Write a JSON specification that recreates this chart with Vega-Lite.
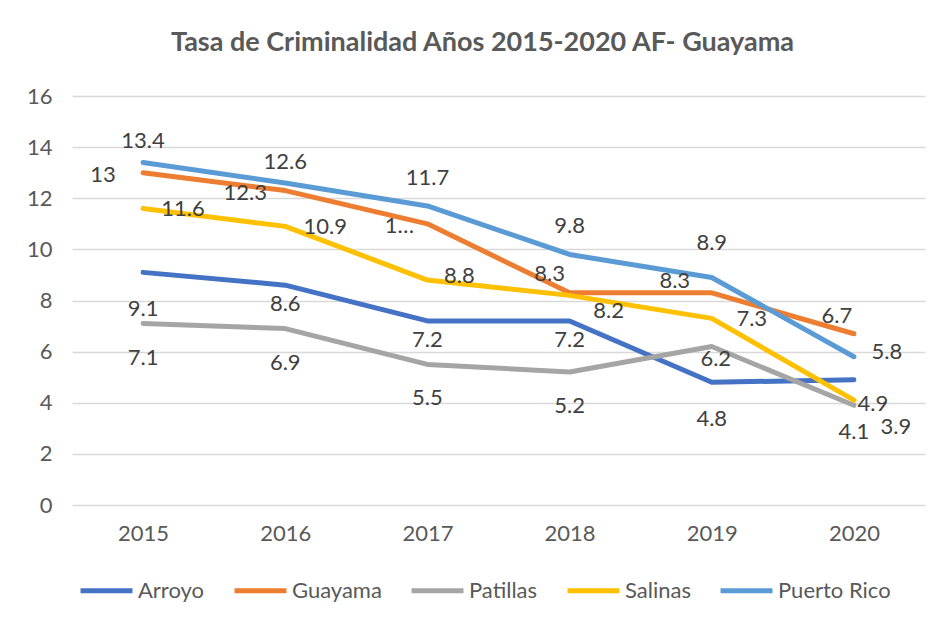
{
  "$schema": "https://vega.github.io/schema/vega-lite/v6.json",
  "width": 853,
  "height": 409,
  "autosize": "none",
  "padding": {"left": 72, "top": 96, "right": 18, "bottom": 119},
  "background": "white",
  "title": {
    "text": "Tasa de Criminalidad Años 2015-2020 AF- Guayama",
    "font": "Lato",
    "fontSize": 27,
    "fontWeight": "bold",
    "color": "#595959",
    "anchor": "middle",
    "dx": -16,
    "offset": 28
  },
  "config": {
    "view": {"stroke": null},
    "text": {"font": "Lato", "fontSize": 22, "color": "#404040", "baseline": "middle", "align": "center"}
  },
  "data": {
    "values": [
      {"year": "2015", "s": "Arroyo", "v": 9.1},
      {"year": "2016", "s": "Arroyo", "v": 8.6},
      {"year": "2017", "s": "Arroyo", "v": 7.2},
      {"year": "2018", "s": "Arroyo", "v": 7.2},
      {"year": "2019", "s": "Arroyo", "v": 4.8},
      {"year": "2020", "s": "Arroyo", "v": 4.9},
      {"year": "2015", "s": "Guayama", "v": 13},
      {"year": "2016", "s": "Guayama", "v": 12.3},
      {"year": "2017", "s": "Guayama", "v": 11},
      {"year": "2018", "s": "Guayama", "v": 8.3},
      {"year": "2019", "s": "Guayama", "v": 8.3},
      {"year": "2020", "s": "Guayama", "v": 6.7},
      {"year": "2015", "s": "Patillas", "v": 7.1},
      {"year": "2016", "s": "Patillas", "v": 6.9},
      {"year": "2017", "s": "Patillas", "v": 5.5},
      {"year": "2018", "s": "Patillas", "v": 5.2},
      {"year": "2019", "s": "Patillas", "v": 6.2},
      {"year": "2020", "s": "Patillas", "v": 3.9},
      {"year": "2015", "s": "Salinas", "v": 11.6},
      {"year": "2016", "s": "Salinas", "v": 10.9},
      {"year": "2017", "s": "Salinas", "v": 8.8},
      {"year": "2018", "s": "Salinas", "v": 8.2},
      {"year": "2019", "s": "Salinas", "v": 7.3},
      {"year": "2020", "s": "Salinas", "v": 4.1},
      {"year": "2015", "s": "Puerto Rico", "v": 13.4},
      {"year": "2016", "s": "Puerto Rico", "v": 12.6},
      {"year": "2017", "s": "Puerto Rico", "v": 11.7},
      {"year": "2018", "s": "Puerto Rico", "v": 9.8},
      {"year": "2019", "s": "Puerto Rico", "v": 8.9},
      {"year": "2020", "s": "Puerto Rico", "v": 5.8}
    ]
  },
  "encoding": {
    "x": {
      "field": "year", "type": "ordinal",
      "scale": {"type": "point", "padding": 0.5},
      "axis": {"title": null, "labelAngle": 0, "labelFont": "Lato", "labelFontSize": 22, "labelColor": "#595959", "labelPadding": 18, "ticks": false, "domain": false, "grid": false}
    },
    "y": {
      "field": "v", "type": "quantitative",
      "scale": {"domain": [0, 16]},
      "axis": {"title": null, "values": [0, 2, 4, 6, 8, 10, 12, 14, 16], "labelFont": "Lato", "labelFontSize": 22, "labelColor": "#595959", "labelPadding": 20, "ticks": false, "domain": false, "gridColor": "#D9D9D9", "gridWidth": 1.5}
    }
  },
  "layer": [
    {
      "mark": {"type": "line", "strokeWidth": 5, "strokeCap": "round", "strokeJoin": "round"},
      "encoding": {
        "color": {
          "field": "s", "type": "nominal",
          "scale": {"domain": ["Arroyo", "Guayama", "Patillas", "Salinas", "Puerto Rico"], "range": ["#4472C4", "#ED7D31", "#A5A5A5", "#FFC000", "#5B9BD5"]},
          "legend": {"title": null, "orient": "none", "legendX": 6, "legendY": 466, "direction": "horizontal", "labelFont": "Lato", "labelFontSize": 22, "labelColor": "#595959", "symbolType": "stroke", "symbolStrokeWidth": 5, "symbolSize": 2700, "columnPadding": 19, "labelOffset": 3}
        }
      }
    },
    {"transform": [{"filter": "datum.s==='Arroyo' && (datum.year==='2015' || datum.year==='2019')"}], "mark": {"type": "text", "dy": 37}, "encoding": {"text": {"field": "v", "type": "nominal"}}},
    {"transform": [{"filter": "datum.s==='Arroyo' && (datum.year==='2016' || datum.year==='2017' || datum.year==='2018')"}], "mark": {"type": "text", "dy": 19}, "encoding": {"text": {"field": "v", "type": "nominal"}}},
    {"transform": [{"filter": "datum.s==='Arroyo' && datum.year==='2020'"}], "mark": {"type": "text", "dx": 19, "dy": 24}, "encoding": {"text": {"field": "v", "type": "nominal"}}},
    {"transform": [{"filter": "datum.s==='Patillas' && datum.year<='2018'"}], "mark": {"type": "text", "dy": 34}, "encoding": {"text": {"field": "v", "type": "nominal"}}},
    {"transform": [{"filter": "datum.s==='Patillas' && datum.year==='2019'"}], "mark": {"type": "text", "dx": 4, "dy": 12}, "encoding": {"text": {"field": "v", "type": "nominal"}}},
    {"transform": [{"filter": "datum.s==='Patillas' && datum.year==='2020'"}], "mark": {"type": "text", "dx": 42, "dy": 22}, "encoding": {"text": {"field": "v", "type": "nominal"}}},
    {"transform": [{"filter": "datum.s==='Salinas' && (datum.year==='2015' || datum.year==='2016' || datum.year==='2019')"}], "mark": {"type": "text", "dx": 40, "dy": 1}, "encoding": {"text": {"field": "v", "type": "nominal"}}},
    {"transform": [{"filter": "datum.s==='Salinas' && datum.year==='2017'"}], "mark": {"type": "text", "dx": 32, "dy": -4}, "encoding": {"text": {"field": "v", "type": "nominal"}}},
    {"transform": [{"filter": "datum.s==='Salinas' && datum.year==='2018'"}], "mark": {"type": "text", "dx": 39, "dy": 16}, "encoding": {"text": {"field": "v", "type": "nominal"}}},
    {"transform": [{"filter": "datum.s==='Salinas' && datum.year==='2020'"}], "mark": {"type": "text", "dx": 0, "dy": 32}, "encoding": {"text": {"field": "v", "type": "nominal"}}},
    {"transform": [{"filter": "datum.s==='Guayama' && (datum.year==='2015' || datum.year==='2016')"}], "mark": {"type": "text", "dx": -40, "dy": 2}, "encoding": {"text": {"field": "v", "type": "nominal"}}},
    {"transform": [{"filter": "datum.s==='Guayama' && datum.year==='2017'"}], "mark": {"type": "text", "dx": -28, "dy": 2, "text": "1…"}, "encoding": {}},
    {"transform": [{"filter": "datum.s==='Guayama' && datum.year==='2018'"}], "mark": {"type": "text", "dx": -20, "dy": -19}, "encoding": {"text": {"field": "v", "type": "nominal"}}},
    {"transform": [{"filter": "datum.s==='Guayama' && datum.year==='2019'"}], "mark": {"type": "text", "dx": -37, "dy": -12}, "encoding": {"text": {"field": "v", "type": "nominal"}}},
    {"transform": [{"filter": "datum.s==='Guayama' && datum.year==='2020'"}], "mark": {"type": "text", "dx": -17, "dy": -18}, "encoding": {"text": {"field": "v", "type": "nominal"}}},
    {"transform": [{"filter": "datum.s==='Puerto Rico' && (datum.year==='2015' || datum.year==='2016')"}], "mark": {"type": "text", "dy": -21}, "encoding": {"text": {"field": "v", "type": "nominal"}}},
    {"transform": [{"filter": "datum.s==='Puerto Rico' && (datum.year==='2017' || datum.year==='2018')"}], "mark": {"type": "text", "dy": -28}, "encoding": {"text": {"field": "v", "type": "nominal"}}},
    {"transform": [{"filter": "datum.s==='Puerto Rico' && datum.year==='2019'"}], "mark": {"type": "text", "dy": -34}, "encoding": {"text": {"field": "v", "type": "nominal"}}},
    {"transform": [{"filter": "datum.s==='Puerto Rico' && datum.year==='2020'"}], "mark": {"type": "text", "dx": 33, "dy": -5}, "encoding": {"text": {"field": "v", "type": "nominal"}}}
  ]
}
